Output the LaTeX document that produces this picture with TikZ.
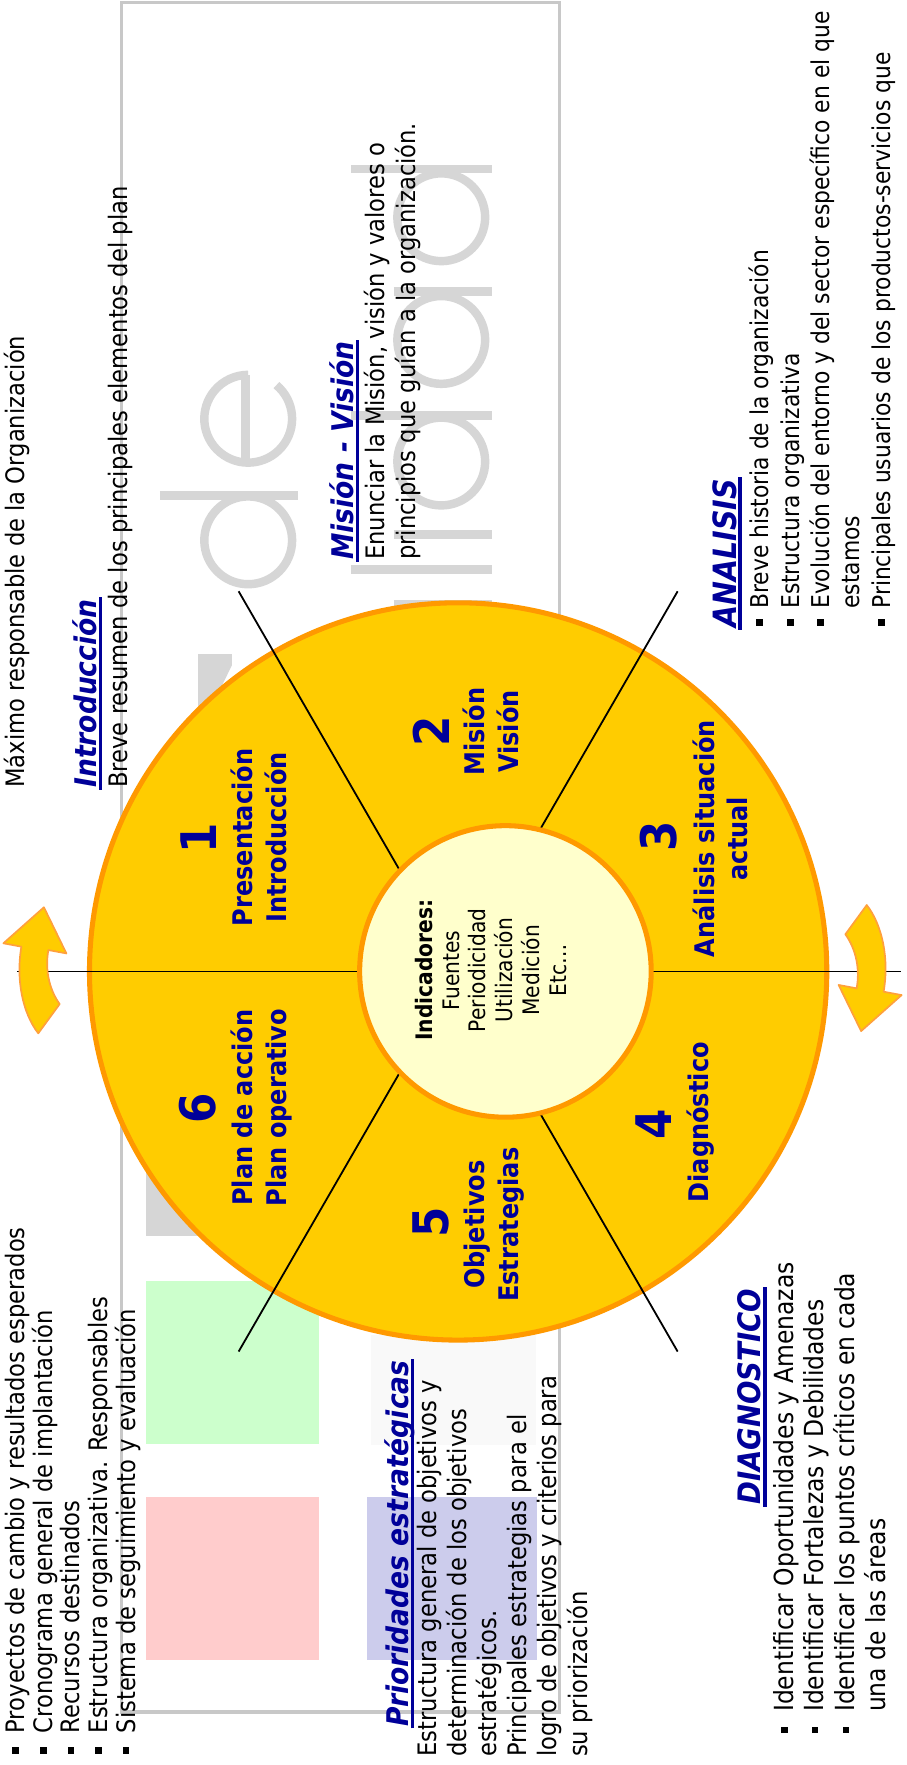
\documentclass[tikz,border=0pt]{standalone}
\usepackage{fontspec}
\setmainfont{DejaVu Sans}[FakeStretch=0.89]
\definecolor{gold}{RGB}{255,204,0}
\definecolor{orng}{RGB}{255,153,0}
\definecolor{arrb}{RGB}{255,160,60}
\definecolor{cream}{RGB}{255,255,204}
\definecolor{navy}{RGB}{0,0,153}
\definecolor{framegray}{RGB}{200,200,200}
\definecolor{wm}{RGB}{214,214,214}
\definecolor{lgreen}{RGB}{204,255,204}
\definecolor{lpink}{RGB}{255,204,204}
\definecolor{lblue}{RGB}{204,204,236}
\definecolor{faint}{RGB}{249,249,249}
\newcommand{\sqbul}[1]{\makebox[#1pt][l]{\raisebox{5pt}{\rule{6pt}{6pt}}}}
\begin{document}
\begin{tikzpicture}[x=1pt,y=-1pt,
  body/.style={font=\fontsize{22.6}{26}\selectfont, inner sep=0pt, anchor=base west, rotate=90},
  bodya/.style={font=\fontsize{21.8}{26}\selectfont, inner sep=0pt, anchor=base west, rotate=90},
  bodyd/.style={font=\fontsize{23.4}{27}\selectfont, inner sep=0pt, anchor=base west, rotate=90},
  ttl/.style={font=\fontsize{26.5}{30}\selectfont\bfseries\itshape, text=navy, inner sep=0pt, anchor=base west, rotate=90},
  uline/.style={navy, line width=3pt, shorten <=-1.5pt, shorten >=-1.5pt},
  num/.style={font=\fontsize{43.6}{50}\selectfont\bfseries, text=navy, rotate=90, inner sep=0pt},
  lbl/.style={font=\fontsize{24}{30}\selectfont\bfseries, text=navy, rotate=90, align=center, inner sep=0pt},
  ray/.style={black, line width=1.6pt},
  arrowsty/.style={fill=gold, draw=arrb, line width=1.5pt, line join=round},
  wmark/.style={wm, line width=7.5pt}
]
\fill[white] (0,0) rectangle (805,1568);
\useasboundingbox (0,0) rectangle (805,1568);

% frame
\draw[framegray, line width=3pt] (108,2) rectangle (497,1521);

% watermark letters
\begin{scope}[wmark]
  \draw (142,440) -- (265,440);
  \draw (220.5,480) circle[radius=39];
  \draw (218,333) -- (218,411);
  \draw (220.5,372) ++(-50:39) arc[start angle=-50, end angle=270, radius=39];
  \draw (312,150) -- (437,150);
  \draw (392,193) circle[radius=39];
  \draw (350,259) -- (437,259);
  \draw (392,302) circle[radius=39];
  \draw (312,369) -- (437,369);
  \draw (392,410) circle[radius=39];
  \draw (350,475) -- (437,475);
  \draw (312,506) -- (437,506);
  \draw (350,537) -- (437,537);
  \draw (392,580) circle[radius=39];
\end{scope}
\fill[wm] (176,581) -- (206,581) -- (206,591) -- (186,632) -- (176,632) -- cycle;
\fill[wm] (130,1005) rectangle (300,1098);

% coloured boxes
\fill[lgreen] (130,1138) rectangle (283,1283);
\fill[lpink] (130,1330) rectangle (283,1475);
\fill[lblue] (326,1330) rectangle (477,1475);
\fill[faint] (330,1186) rectangle (476,1284);

% big circle
\node[circle, fill=gold, draw=orng, line width=4.5pt, minimum size=655pt, inner sep=0pt] (big) at (407,863) {};

% rays
\coordinate (rL) at (15,863);
\coordinate (rR) at (800,863);
\coordinate (rUL) at (212,525.3);
\coordinate (rUR) at (602,525.3);
\coordinate (rLL) at (212,1200.7);
\coordinate (rLR) at (602,1200.7);
\draw[ray] (rL) -- (rR);
\draw[ray] (rUL) -- (rLR);
\draw[ray] (rUR) -- (rLL);

% inner circle
\node[circle, fill=cream, draw=orng, line width=4.5pt, minimum size=259pt, inner sep=0pt] (inner) at (449,863) {};

% curved arrows
\filldraw[arrowsty] (39,806) -- (3,838) -- (19,841) .. controls (14,870) and (20,900) .. (34,918) -- (53,892) .. controls (43,878) and (40,860) .. (43,844) -- (59,847) -- cycle;
\begin{scope}[rotate around={180:(402,861)}]
\filldraw[arrowsty] (39,806) -- (3,838) -- (19,841) .. controls (14,870) and (20,900) .. (34,918) -- (53,892) .. controls (43,878) and (40,860) .. (43,844) -- (59,847) -- cycle;
\end{scope}

% inner text
\node[rotate=90, align=center, inner sep=0pt, font=\fontsize{20.2}{23.8}\selectfont] (tInd) at (436,862)
  {\textbf{Indicadores:}\\Fuentes\\Periodicidad\\Utilización\\Medición\\Etc…};

% sector labels
\node[num] (n1) at (176,745) {1};
\node[lbl] (l1) at (230,744) {Presentación\\Introducción};
\node[num] (n2) at (383,650) {2};
\node[lbl] (l2) at (436,650) {Misión\\Visión};
\node[num] (n3) at (585,743) {3};
\node[lbl] (l3) at (640,745) {Análisis situación\\actual};
\node[num] (n4) at (581,999) {4};
\node[lbl] (l4) at (622,997) {Diagnóstico};
\node[num] (n5) at (383,1086) {5};
\node[lbl] (l5) at (439,1088) {Objetivos\\Estrategias};
\node[num] (n6) at (176,985) {6};
\node[lbl] (l6) at (232,984) {Plan de acción\\Plan operativo};

% Introduccion block
\node[body] (tMax) at (22,700) {Máximo responsable de la Organización};
\node[ttl] (tIntro) at (86,700) {Introducción};
\draw[uline] ([xshift=3.5pt]tIntro.base west) -- ([xshift=3.5pt]tIntro.base east);
\node[body] (tBreve) at (113,700) {Breve resumen de los principales elementos del plan};

% Mision block
\node[ttl] (tMis) at (314,497.5) {Misión - Visión};
\draw[uline] ([xshift=3.5pt]tMis.base west) -- ([xshift=3.5pt]tMis.base east);
\node[body] (tMis1) at (342,497.5) {Enunciar la Misión, visión y valores o};
\node[body] (tMis2) at (369,497.5) {principios que guían a la organización.};

% Analisis block
\node[ttl, font=\fontsize{28.5}{30}\selectfont\bfseries\itshape] (tAna) at (654,558) {ANALISIS};
\draw[uline] ([xshift=3.5pt]tAna.base west) -- ([xshift=3.5pt]tAna.base east);
\node[bodya] (tAna1) at (683,556) {\sqbul{15}Breve historia de la organización};
\node[bodya] (tAna2) at (710,556) {\sqbul{15}Estructura organizativa};
\node[bodya] (tAna3) at (737,556) {\sqbul{15}Evolución del entorno y del sector específico en el que};
\node[bodya] (tAna4) at (764,541) {estamos};
\node[bodya] (tAna5) at (791,556) {\sqbul{15}Principales usuarios de los productos-servicios que};

% Diagnostico block
\node[ttl, font=\fontsize{27.5}{30}\selectfont\bfseries\itshape] (tDia) at (676,1337) {DIAGNOSTICO};
\draw[uline] ([xshift=3.5pt]tDia.base west) -- ([xshift=3.5pt]tDia.base east);
\node[bodyd] (tDia1) at (705,1540) {\sqbul{19}Identificar Oportunidades y Amenazas};
\node[bodyd] (tDia2) at (732,1540) {\sqbul{19}Identificar Fortalezas y Debilidades};
\node[bodyd] (tDia3) at (759.5,1540) {\sqbul{19}Identificar los puntos críticos en cada};
\node[bodyd] (tDia4) at (787,1521) {una de las áreas};

% Prioridades block
\node[ttl] (tPri) at (363,1534) {Prioridades estratégicas};
\draw[uline] ([xshift=3.5pt]tPri.base west) -- ([xshift=3.5pt]tPri.base east);
\node[body] (tPri1) at (388,1561) {Estructura general de objetivos y};
\node[body] (tPri2) at (414.7,1561) {determinación de los objetivos};
\node[body] (tPri3) at (441.4,1561) {estratégicos.};
\node[body] (tPri4) at (468.1,1561) {Principales estrategias para el};
\node[body] (tPri5) at (494.8,1561) {logro de objetivos y criterios para};
\node[body] (tPri6) at (521.5,1561) {su priorización};

% Plan de accion bullets
\node[body] (tPl1) at (22,1558) {\sqbul{18}Proyectos de cambio y resultados esperados};
\node[body] (tPl2) at (46.5,1558) {\sqbul{18}Cronograma general de implantación};
\node[body] (tPl3) at (71,1558) {\sqbul{18}Recursos destinados};
\node[body] (tPl4) at (95.5,1558) {\sqbul{18}Estructura organizativa. Responsables};
\node[body] (tPl5) at (120,1558) {\sqbul{18}Sistema de seguimiento y evaluación};
\end{tikzpicture}
\end{document}
